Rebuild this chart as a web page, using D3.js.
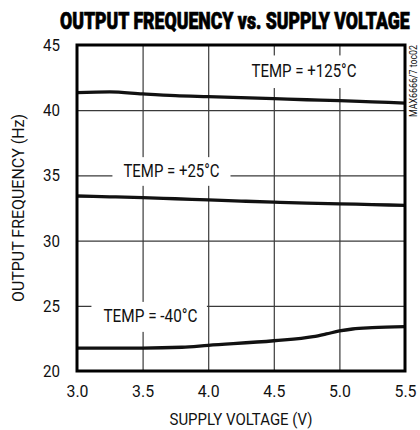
<!DOCTYPE html>
<meta charset="utf-8">
<script src="https://d3js.org/d3.v7.min.js"></script>
<style>
  body { margin: 0; background: #fff; }
  text { font-family: Roboto, "Liberation Sans", sans-serif; }
</style>
<div id="chart"></div>
<script>

// supply voltage (V) and output frequency (Hz)
var voltage = [3.0, 3.25, 3.5, 3.75, 4.0, 4.25, 4.5, 4.75, 5.0, 5.25, 5.5];
var freqHot = [41.35, 41.40, 41.25, 41.12, 41.04, 40.96, 40.88, 40.80, 40.73, 40.64, 40.55];
var freqRoom = [33.42, 33.36, 33.30, 33.21, 33.12, 33.03, 32.95, 32.88, 32.82, 32.76, 32.70];
var voltageCold = [3.0, 3.5, 3.8, 4.0, 4.5, 4.8, 4.9, 5.0, 5.1, 5.25, 5.5];
var freqCold = [21.76, 21.76, 21.82, 21.97, 22.32, 22.63, 22.84, 23.07, 23.22, 23.32, 23.40];

var xTicks = [3.0, 3.5, 4.0, 4.5, 5.0, 5.5];
var yTicks = [20, 25, 30, 35, 40, 45];

// curve labels: text, text centre (V), baseline (Hz), box [V0, V1, Hz top, Hz bottom]
var labels = [
  {text: "TEMP = +125°C", v: 4.73, f: 42.52, len: 105, box: [4.28, 5.17, 44.2, 41.7]},
  {text: "TEMP = +25°C",  v: 3.72, f: 34.88, len: 96,  box: [3.27, 4.17, 36.4, 34.2]},
  {text: "TEMP = -40°C",  v: 3.56, f: 23.76, len: 94,  box: [3.11, 3.99, 25.3, 23.0]}
];

var W = 420, H = 430;
var margin = {top: 45, right: 15, bottom: 59, left: 77};
var width = W - margin.left - margin.right,
    height = H - margin.top - margin.bottom;

var svg = d3.select("#chart").append("svg")
    .attr("width", W)
    .attr("height", H)
  .append("g")
    .attr("transform", "translate(" + margin.left + "," + margin.top + ")");

var x = d3.scaleLinear().domain([3.0, 5.5]).range([0, width]);
var y = d3.scaleLinear().domain([20, 45]).range([height, 0]);

// grid
svg.append("g")
  .attr("class", "grid")
  .call(d3.axisBottom(x).tickValues(xTicks.slice(1, -1)).tickSize(height).tickFormat(""))
  .call(function(g) { g.select(".domain").remove(); })
  .selectAll("line").attr("stroke", "#3a3a3a").attr("stroke-width", 1.2);

svg.append("g")
  .attr("class", "grid")
  .call(d3.axisLeft(y).tickValues(yTicks.slice(1, -1)).tickSize(-width).tickFormat(""))
  .call(function(g) { g.select(".domain").remove(); })
  .selectAll("line").attr("stroke", "#3a3a3a").attr("stroke-width", 1.2);

// curves
var line = d3.line()
  .x(function(d) { return x(d[0]); })
  .y(function(d) { return y(d[1]); })
  .curve(d3.curveMonotoneX);

var series = [
  d3.zip(voltage, freqHot),
  d3.zip(voltage, freqRoom),
  d3.zip(voltageCold, freqCold)
];

svg.selectAll(".curve")
  .data(series)
  .enter().append("path")
    .attr("class", "curve")
    .attr("fill", "none")
    .attr("stroke", "#111")
    .attr("stroke-width", 3.3)
    .attr("d", line);

// labels with white boxes
var lab = svg.selectAll(".lab").data(labels).enter().append("g").attr("class", "lab");
lab.append("rect")
  .attr("x", function(d) { return x(d.box[0]); })
  .attr("y", function(d) { return y(d.box[2]); })
  .attr("width", function(d) { return x(d.box[1]) - x(d.box[0]); })
  .attr("height", function(d) { return y(d.box[3]) - y(d.box[2]); })
  .attr("fill", "#fff");
lab.append("text")
  .attr("x", function(d) { return x(d.v); })
  .attr("y", function(d) { return y(d.f); })
  .attr("text-anchor", "middle")
  .attr("font-size", "18px")
  .attr("textLength", function(d) { return d.len; })
  .attr("lengthAdjust", "spacingAndGlyphs")
  .attr("fill", "#111")
  .text(function(d) { return d.text; });

// frame
svg.append("rect")
  .attr("width", width)
  .attr("height", height)
  .attr("fill", "none")
  .attr("stroke", "#000")
  .attr("stroke-width", 3);

// axes
var xAxis = svg.append("g")
  .attr("transform", "translate(0," + height + ")")
  .call(d3.axisBottom(x).tickValues(xTicks).tickSize(0).tickPadding(14).tickFormat(d3.format(".1f")));
xAxis.select(".domain").remove();
xAxis.selectAll("text").attr("font-size", "17px").attr("fill", "#111").attr("font-family", null)
  .attr("textLength", 22).attr("lengthAdjust", "spacingAndGlyphs");

var yAxis = svg.append("g")
  .call(d3.axisLeft(y).tickValues(yTicks).tickSize(0).tickPadding(17));
yAxis.select(".domain").remove();
yAxis.selectAll("text").attr("font-size", "17px").attr("fill", "#111").attr("font-family", null)
  .attr("textLength", 17).attr("lengthAdjust", "spacingAndGlyphs");

// axis titles
svg.append("text")
  .attr("x", width / 2)
  .attr("y", height + 54)
  .attr("text-anchor", "middle")
  .attr("font-size", "16px")
  .attr("textLength", 143)
  .attr("lengthAdjust", "spacingAndGlyphs")
  .attr("fill", "#111")
  .text("SUPPLY VOLTAGE (V)");

svg.append("text")
  .attr("transform", "rotate(-90)")
  .attr("x", -height / 2)
  .attr("y", -53)
  .attr("text-anchor", "middle")
  .attr("font-size", "16px")
  .attr("textLength", 188)
  .attr("lengthAdjust", "spacingAndGlyphs")
  .attr("fill", "#111")
  .text("OUTPUT FREQUENCY (Hz)");

// title, squeezed horizontally to look condensed
var title = svg.append("text")
  .attr("font-size", "23px")
  .attr("font-weight", "900")
  .attr("fill", "#000")
  .attr("stroke", "#000")
  .attr("stroke-width", 0.7)
  .text("OUTPUT FREQUENCY vs. SUPPLY VOLTAGE");
var sx = 350 / title.node().getComputedTextLength();
title.attr("transform", "translate(-17,-16) scale(" + sx + ",1)");

// part number tag
svg.append("text")
  .attr("transform", "rotate(-90)")
  .attr("x", 0)
  .attr("y", width + 12)
  .attr("text-anchor", "end")
  .attr("font-size", "11px")
  .attr("textLength", 72)
  .attr("lengthAdjust", "spacingAndGlyphs")
  .attr("fill", "#111")
  .text("MAX6666/7 toc02");

</script>
